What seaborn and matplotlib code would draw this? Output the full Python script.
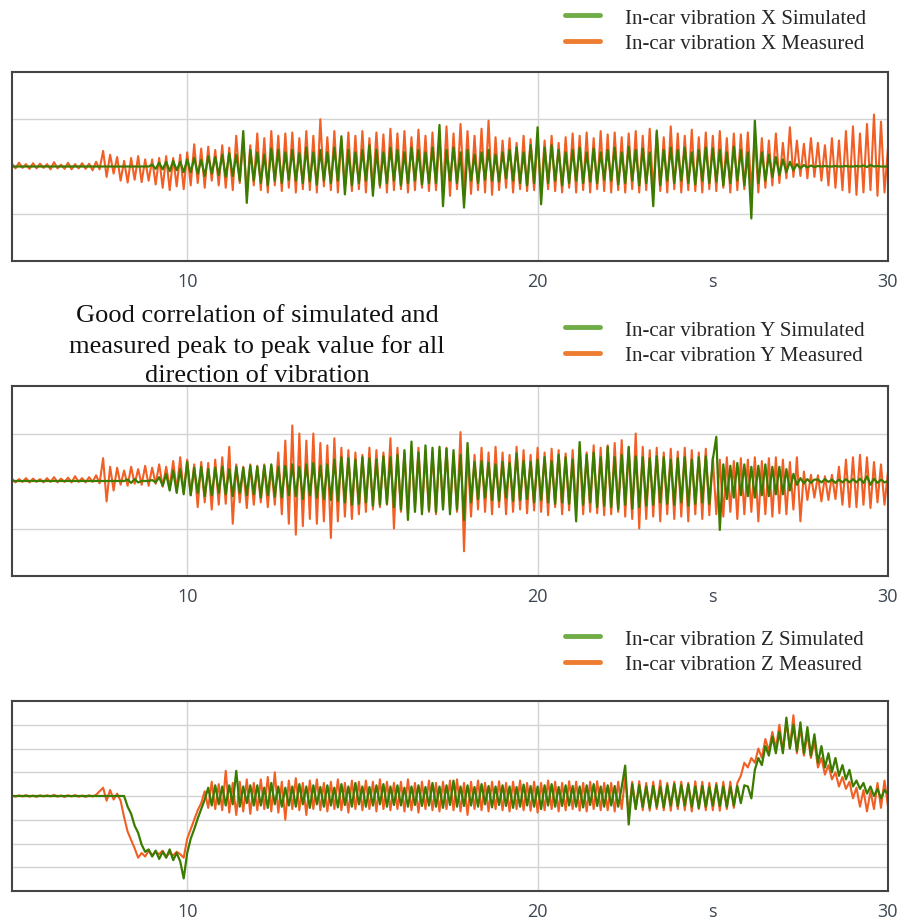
import numpy as np
import matplotlib
matplotlib.use("Agg")
import matplotlib.pyplot as plt
from matplotlib.lines import Line2D
import seaborn as sns

# ---------------------------------------------------------------
# Values, one row per second (0.1 s step)
# ---------------------------------------------------------------
TIME = np.round(np.linspace(5.0, 30.0, 251), 2)

x_measured = [
    0.06, -0.04, 0.08, -0.03, 0.05, -0.05, 0.07, -0.04, 0.06, -0.03,   # 5 s
    0.05, -0.06, 0.09, -0.04, 0.04, -0.05, 0.08, -0.06, 0.05, -0.04,   # 6 s
    0.07, -0.05, 0.06, -0.08, 0.10, -0.06, 0.33, -0.22, 0.25, -0.15,   # 7 s
    0.20, -0.30, 0.12, -0.34, 0.18, -0.28, 0.22, -0.33, 0.15, -0.30,   # 8 s
    0.15, -0.38, 0.18, -0.45, 0.22, -0.50, 0.18, -0.42, 0.25, -0.48,   # 9 s
    0.30, -0.40, 0.47, -0.35, 0.38, -0.45, 0.42, -0.30, 0.35, -0.40,   # 10 s
    0.45, -0.45, 0.40, -0.50, 0.65, -0.35, 0.55, -0.55, 0.45, -0.40,   # 11 s
    0.70, -0.50, 0.60, -0.55, 0.75, -0.40, 0.65, -0.52, 0.70, -0.45,   # 12 s
    0.72, -0.55, 0.60, -0.48, 0.75, -0.50, 0.65, -0.55, 1.00, -0.42,   # 13 s
    0.62, -0.50, 0.75, -0.55, 0.58, -0.45, 0.72, -0.52, 0.65, -0.48,   # 14 s
    0.75, -0.55, 0.60, -0.50, 0.72, -0.45, 0.68, -0.55, 0.80, -0.50,   # 15 s
    0.70, -0.48, 0.75, -0.55, 0.62, -0.50, 0.78, -0.45, 0.65, -0.52,   # 16 s
    0.72, -0.50, 0.60, -0.55, 0.85, -0.62, 0.70, -0.48, 0.90, -0.55,   # 17 s
    0.75, -0.58, 0.65, -0.50, 0.80, -0.55, 0.97, -0.60, 0.62, -0.50,   # 18 s
    0.55, -0.45, 0.60, -0.55, 0.50, -0.48, 0.65, -0.52, 0.58, -0.50,   # 19 s
    0.60, -0.55, 0.55, -0.48, 0.65, -0.52, 0.50, -0.55, 0.62, -0.45,   # 20 s
    0.70, -0.55, 0.65, -0.50, 0.72, -0.55, 0.60, -0.48, 0.75, -0.52,   # 21 s
    0.68, -0.55, 0.72, -0.50, 0.62, -0.55, 0.70, -0.48, 0.75, -0.55,   # 22 s
    0.65, -0.50, 0.80, -0.55, 0.70, -0.52, 0.62, -0.55, 0.85, -0.48,   # 23 s
    0.70, -0.55, 0.65, -0.50, 0.78, -0.52, 0.62, -0.55, 0.72, -0.48,   # 24 s
    0.65, -0.52, 0.75, -0.45, 0.60, -0.55, 0.70, -0.50, 0.68, -0.48,   # 25 s
    0.72, -0.50, 0.65, -0.55, 0.60, -0.45, 0.55, -0.40, 0.70, -0.35,   # 26 s
    0.50, -0.25, 0.83, -0.22, 0.55, -0.20, 0.48, -0.25, 0.60, -0.22,   # 27 s
    0.50, -0.30, 0.45, -0.40, 0.60, -0.45, 0.55, -0.50, 0.75, -0.55,   # 28 s
    0.85, -0.60, 0.70, -0.55, 0.90, -0.50, 1.10, -0.62, 0.95, -0.55,   # 29 s
    0.40,
]

x_simulated = [
    0.00, 0.00, 0.00, 0.00, 0.00, 0.00, 0.00, 0.00, 0.00, 0.00,
    0.00, 0.00, 0.00, 0.00, 0.00, 0.00, 0.00, 0.00, 0.00, 0.00,
    0.00, 0.00, 0.00, 0.00, 0.00, 0.00, 0.00, 0.00, 0.00, 0.00,
    0.00, 0.00, 0.00, 0.00, 0.00, 0.00, 0.00, 0.00, 0.00, 0.00,
    0.04, -0.05, 0.08, -0.06, 0.10, -0.10, 0.12, -0.08, 0.10, -0.12,
    0.15, -0.12, 0.18, -0.15, 0.14, -0.20, 0.22, -0.15, 0.20, -0.18,
    0.25, -0.22, 0.28, -0.20, 0.25, -0.30, 0.75, -0.77, 0.35, -0.30,
    0.30, -0.35, 0.25, -0.40, 0.38, -0.30, 0.35, -0.35, 0.30, -0.28,
    0.35, -0.30, 0.28, -0.35, 0.40, -0.32, 0.30, -0.38, 0.35, -0.30,
    0.30, -0.35, 0.40, -0.30, 0.64, -0.59, 0.35, -0.40, 0.30, -0.35,
    0.35, -0.30, 0.45, -0.62, 0.35, -0.40, 0.30, -0.35, 0.40, -0.30,
    0.35, -0.40, 0.30, -0.35, 0.40, -0.30, 0.35, -0.38, 0.30, -0.35,
    0.40, -0.35, 0.88, -0.84, 0.35, -0.30, 0.40, -0.35, 0.30, -0.87,
    0.35, -0.30, 0.25, -0.35, 0.30, -0.28, 0.35, -0.30, 0.25, -0.32,
    0.30, -0.25, 0.35, -0.30, 0.40, -0.35, 0.30, -0.40, 0.45, -0.35,
    0.83, -0.80, 0.40, -0.35, 0.45, -0.30, 0.35, -0.40, 0.30, -0.35,
    0.35, -0.30, 0.40, -0.35, 0.30, -0.32, 0.38, -0.35, 0.30, -0.28,
    0.35, -0.30, 0.40, -0.38, 0.30, -0.35, 0.42, -0.30, 0.35, -0.40,
    0.38, -0.35, 0.30, -0.84, 0.76, -0.40, 0.35, -0.30, 0.40, -0.35,
    0.35, -0.30, 0.40, -0.35, 0.30, -0.38, 0.35, -0.30, 0.40, -0.35,
    0.38, -0.32, 0.35, -0.40, 0.30, -0.35, 0.42, -0.30, 0.35, -0.40,
    0.30, -1.10, 0.97, -0.35, 0.30, -0.30, 0.25, -0.22, 0.20, -0.18,
    0.15, -0.12, 0.10, -0.08, 0.05, -0.04, 0.03, -0.02, 0.02, -0.01,
    0.01, 0.00, 0.01, 0.00, 0.00, 0.01, 0.00, 0.00, 0.01, 0.00,
    0.00, 0.01, 0.00, 0.02, -0.01, 0.03, 0.00, 0.01, 0.00, 0.00,
    0.00,
]

y_measured = [
    0.05, -0.03, 0.04, -0.02, 0.06, -0.03, 0.05, -0.02, 0.04, -0.03,
    0.06, -0.02, 0.08, -0.03, 0.05, -0.02, 0.07, -0.03, 0.10, -0.02,
    0.06, -0.03, 0.08, -0.02, 0.12, -0.05, 0.48, -0.43, 0.30, -0.20,
    0.28, -0.08, 0.22, -0.10, 0.30, -0.06, 0.25, -0.08, 0.32, -0.10,
    0.28, -0.06, 0.35, -0.12, 0.30, -0.15, 0.42, -0.20, 0.50, -0.25,
    0.45, -0.30, 0.35, -0.55, 0.40, -0.45, 0.38, -0.60, 0.45, -0.50,
    0.50, -0.48, 0.72, -0.90, 0.35, -0.45, 0.30, -0.57, 0.35, -0.50,
    0.32, -0.45, 0.35, -0.55, 0.30, -0.50, 0.60, -0.70, 0.85, -0.90,
    1.17, -1.13, 1.00, -0.95, 0.85, -0.80, 1.00, -0.90, 0.80, -0.85,
    0.75, -1.20, 0.90, -0.85, 0.70, -0.75, 0.65, -0.80, 0.60, -0.70,
    0.55, -0.65, 0.70, -0.60, 0.65, -0.55, 0.60, -0.50, 0.90, -1.00,
    0.70, -0.65, 0.60, -0.70, 0.65, -0.55, 0.70, -0.60, 0.55, -0.65,
    0.60, -0.70, 0.65, -0.55, 0.70, -0.60, 0.55, -0.65, 1.03, -1.48,
    0.65, -0.75, 0.55, -0.60, 0.70, -0.65, 0.60, -0.70, 0.72, -0.55,
    0.60, -0.70, 0.55, -0.65, 0.72, -0.60, 0.65, -0.68, 0.55, -0.62,
    0.70, -0.65, 0.60, -0.72, 0.68, -0.55, 0.65, -0.70, 0.58, -0.62,
    0.65, -0.60, 0.72, -0.70, 0.60, -0.65, 0.75, -0.68, 0.70, -0.72,
    0.75, -0.70, 0.80, -0.65, 0.86, -0.75, 0.70, -0.80, 1.00, -1.00,
    0.72, -0.80, 0.65, -0.75, 0.70, -0.85, 0.60, -0.70, 0.68, -0.80,
    0.62, -0.75, 0.70, -0.85, 0.65, -0.70, 0.60, -0.80, 0.68, -0.72,
    0.50, -0.70, 0.45, -0.75, 0.50, -0.65, 0.42, -0.80, 0.48, -0.70,
    0.45, -0.65, 0.50, -0.85, 0.42, -0.70, 0.48, -0.75, 0.50, -0.68,
    0.45, -0.70, 0.40, -0.60, 0.50, -0.85, 0.20, -0.40, 0.13, -0.35,
    0.12, -0.43, 0.10, -0.40, 0.13, -0.38, 0.30, -0.50, 0.45, -0.55,
    0.50, -0.55, 0.55, -0.50, 0.50, -0.57, 0.40, -0.45, 0.35, -0.50,
    0.20,
]

y_simulated = [
    0.00, 0.00, 0.00, 0.00, 0.00, 0.00, 0.00, 0.00, 0.00, 0.00,
    0.00, 0.00, 0.00, 0.00, 0.00, 0.00, 0.00, 0.00, 0.00, 0.00,
    0.00, 0.00, 0.00, 0.00, 0.00, 0.00, 0.00, 0.00, 0.00, 0.00,
    0.00, 0.00, 0.00, 0.03, -0.04, 0.04, -0.03, 0.00, 0.00, 0.00,
    0.02, -0.03, 0.08, -0.10, 0.15, -0.20, 0.22, -0.25, 0.25, -0.28,
    0.40, -0.30, 0.28, -0.25, 0.30, -0.32, 0.25, -0.30, 0.28, -0.25,
    0.30, -0.28, 0.25, -0.32, 0.30, -0.25, 0.28, -0.30, 0.32, -0.28,
    0.30, -0.35, 0.32, -0.30, 0.35, -0.33, 0.30, -0.35, 0.32, -0.30,
    0.35, -0.32, 0.30, -0.38, 0.35, -0.30, 0.38, -0.35, 0.32, -0.38,
    0.35, -0.40, 0.45, -0.42, 0.50, -0.45, 0.48, -0.50, 0.45, -0.48,
    0.50, -0.45, 0.48, -0.52, 0.45, -0.50, 0.52, -0.48, 0.50, -0.55,
    0.55, -0.60, 0.65, -0.82, 0.83, -0.65, 0.60, -0.70, 0.75, -0.62,
    0.70, -0.65, 0.72, -0.60, 0.68, -0.70, 0.65, -0.60, 0.55, -0.82,
    0.80, -0.45, 0.40, -0.38, 0.42, -0.35, 0.38, -0.40, 0.35, -0.42,
    0.40, -0.35, 0.38, -0.42, 0.58, -0.40, 0.42, -0.38, 0.40, -0.45,
    0.45, -0.40, 0.50, -0.45, 0.42, -0.48, 0.55, -0.45, 0.50, -0.48,
    0.45, -0.85, 0.82, -0.50, 0.55, -0.45, 0.60, -0.55, 0.50, -0.52,
    0.72, -0.55, 0.50, -0.60, 0.55, -0.50, 0.72, -0.58, 0.52, -0.55,
    0.50, -0.52, 0.48, -0.50, 0.52, -0.45, 0.50, -0.48, 0.45, -0.50,
    0.48, -0.45, 0.50, -0.52, 0.45, -0.48, 0.50, -0.45, 0.52, -0.48,
    0.45, 0.93, -1.03, 0.35, -0.38, 0.32, -0.35, 0.38, -0.30, 0.35,
    -0.32, 0.30, -0.35, 0.32, -0.30, 0.35, -0.32, 0.30, -0.28, 0.30,
    -0.28, 0.25, -0.20, 0.15, -0.08, 0.06, -0.05, 0.04, -0.04, 0.03,
    0.03, -0.03, 0.04, -0.02, 0.03, -0.04, 0.03, -0.03, 0.04, -0.03,
    0.04, -0.03, 0.05, -0.04, 0.10, -0.08, 0.05, -0.04, 0.03, -0.03,
    0.00,
]

z_measured = [
    0.02, -0.03, 0.03, -0.02, 0.04, -0.03, 0.02, -0.04, 0.03, -0.02,
    0.03, -0.02, 0.05, -0.03, 0.02, -0.04, 0.03, -0.02, 0.04, -0.03,
    0.02, -0.04, 0.03, -0.02, 0.05, 0.20, 0.35, -0.20, 0.25, -0.15,
    0.10, -0.20, -0.90, -1.50, -1.85, -2.20, -2.60, -2.40, -2.55, -2.30,
    -2.50, -2.35, -2.45, -2.30, -2.55, -2.40, -2.50, -2.35, -2.45, -2.60,
    -1.80, -1.40, -1.00, -0.60, -0.30, 0.20, -0.50, 0.60, -0.55, 0.50,
    -0.60, 1.06, -0.70, 0.55, -0.80, 0.60, -0.65, 0.70, -0.75, 0.55,
    -0.60, 0.70, -0.55, 0.80, -0.65, 1.00, -0.70, 0.60, -1.00, 0.65,
    -0.55, 0.75, -0.60, 0.55, -0.80, 0.65, -0.55, 0.70, -0.60, 0.55,
    -0.65, 0.60, -0.55, 0.70, -0.60, 0.55, -0.70, 0.65, -0.55, 0.60,
    -0.60, 0.65, -0.55, 0.60, -0.65, 0.70, -0.55, 0.60, -0.60, 0.55,
    -0.55, 0.60, -0.65, 0.70, -0.60, 0.55, -0.70, 0.60, -0.55, 0.65,
    -0.60, 0.55, -0.65, 0.60, -0.55, 0.65, -0.60, 0.70, -0.65, 0.55,
    -0.80, 0.60, -0.55, 0.65, -0.60, 0.55, -0.65, 0.60, -0.55, 0.62,
    -0.60, 0.55, -0.65, 0.60, -0.55, 0.65, -0.60, 0.55, -0.62, 0.60,
    -0.70, 0.55, -0.60, 0.65, -0.55, 0.60, -0.65, 0.55, -0.60, 0.62,
    -0.55, 0.60, -0.62, 0.55, -0.65, 0.60, -0.55, 0.62, -0.60, 0.55,
    -0.60, 0.55, -0.65, 0.60, -0.55, 0.80, -0.75, 0.60, -0.55, 0.62,
    -0.60, 0.55, -0.62, 0.60, -0.55, 0.65, -0.60, 0.55, -0.62, 0.60,
    -0.55, 0.60, -0.60, 0.55, -0.65, 0.62, -0.55, 0.60, -0.60, 0.55,
    -0.60, 0.55, -0.62, 0.60, -0.55, 0.60, -0.50, 0.55, 0.85, 1.40,
    1.20, 1.60, 1.40, 2.00, 1.60, 2.40, 1.90, 2.70, 2.00, 3.00,
    1.90, 3.10, 2.00, 3.40, 1.80, 2.90, 1.70, 2.60, 1.60, 2.30,
    1.20, 1.60, 0.90, 1.30, 0.70, 1.00, 0.40, 0.80, 0.30, 0.60,
    -0.10, 0.35, -0.45, 0.25, -0.65, 0.20, -0.55, 0.55, -0.50, 0.65,
    -0.45,
]

z_simulated = [
    0.00, 0.00, 0.00, 0.00, 0.00, 0.00, 0.00, 0.00, 0.00, 0.00,
    0.00, 0.00, 0.00, 0.00, 0.00, 0.00, 0.00, 0.00, 0.00, 0.00,
    0.00, 0.00, 0.00, 0.00, 0.00, 0.00, 0.00, 0.00, 0.00, 0.00,
    0.00, 0.00, 0.00, -0.45, -0.75, -1.25, -1.55, -2.05, -2.35, -2.25,
    -2.55, -2.30, -2.65, -2.35, -2.60, -2.25, -2.70, -2.40, -2.75, -3.47,
    -2.40, -1.80, -1.40, -0.95, -0.55, -0.15, 0.35, -0.40, 0.45, -0.35,
    0.40, -0.40, 0.45, -0.35, 1.06, -0.45, 0.40, -0.30, 0.45, -0.40,
    0.45, -0.40, 0.35, -0.50, 0.55, -0.35, 0.40, -0.45, 0.35, -0.40,
    0.40, -0.45, 0.50, -0.35, 0.40, -0.50, 0.45, -0.35, 0.38, -0.45,
    0.45, -0.40, 0.35, -0.48, 0.50, -0.38, 0.40, -0.45, 0.55, -0.35,
    0.40, -0.45, 0.38, -0.40, 0.45, -0.35, 0.50, -0.45, 0.40, -0.38,
    0.45, -0.40, 0.35, -0.45, 0.40, -0.38, 0.45, -0.42, 0.38, -0.40,
    0.55, -0.45, 0.40, -0.50, 0.45, -0.38, 0.65, -0.45, 0.40, -0.42,
    0.45, -0.40, 0.38, -0.45, 0.50, -0.35, 0.42, -0.48, 0.40, -0.38,
    0.45, -0.42, 0.40, -0.50, 0.38, -0.45, 0.48, -0.40, 0.42, -0.45,
    0.40, -0.55, 0.45, -0.40, 0.50, -0.45, 0.38, -0.42, 0.45, -0.40,
    0.42, -0.45, 0.40, -0.48, 0.45, -0.38, 0.50, -0.42, 0.40, -0.45,
    0.45, -0.40, 0.42, -0.45, 0.38, 1.28, -1.20, 0.50, -0.55, 0.45,
    -0.45, 0.40, -0.50, 0.42, -0.45, 0.38, -0.48, 0.45, -0.40, 0.50,
    -0.42, 0.45, -0.40, 0.48, -0.45, 0.40, -0.50, 0.42, -0.45, 0.38,
    -0.40, 0.45, -0.42, 0.40, -0.45, 0.38, -0.40, 0.42, -0.30, 0.45,
    0.40, -0.10, 1.10, 1.60, 1.30, 2.10, 1.70, 2.50, 1.80, 2.70,
    1.80, 3.30, 2.00, 3.00, 1.90, 3.10, 1.80, 2.90, 1.70, 2.60,
    1.40, 2.10, 1.20, 1.80, 1.00, 1.60, 0.85, 1.30, 0.70, 1.10,
    0.40, 0.65, 0.30, 0.55, 0.10, 0.40, 0.00, 0.30, -0.10, 0.25,
    0.10,
]

axis_letters = ["X", "Y", "Z"]
x_ticks = [10, 20, 30]
x_tick_labels = ["10", "20", "30"]
unit_tick = [25]
unit_label = ["s"]

# colours
MEAS_COLOR = "#f25f24"
SIM_COLOR = "#3b7b00"
LEG_SIM = "#70ad47"
LEG_MEAS = "#ed7d31"
TICK_COLOR = "#3c4650"

sns.set_theme(style="white")
plt.rcParams["font.family"] = ["Liberation Serif", "DejaVu Serif"]

W, H = 902, 920
fig = plt.figure(figsize=(W / 100, H / 100), dpi=100)

# (top, bottom) pixel boxes, y limits, y ticks, legend top
panels = [
    dict(top=73, bottom=262, ylim=(-2, 2), yticks=[-1, 1], sim=x_simulated,
         meas=x_measured, leg_top=9),
    dict(top=387, bottom=577, ylim=(-2, 2), yticks=[-1, 1], sim=y_simulated,
         meas=y_measured, leg_top=321),
    dict(top=702, bottom=892, ylim=(-4, 4), yticks=[-3, -2, -1, 0, 1, 2, 3],
         sim=z_simulated, meas=z_measured, leg_top=630),
]

for letter, p in zip(axis_letters, panels):
    ax = fig.add_axes([12 / W, 1 - p["bottom"] / H, 876 / W,
                       (p["bottom"] - p["top"]) / H])
    ax.set_axisbelow(True)

    # measured first, simulated drawn on top
    sns.lineplot(x=TIME, y=p["meas"], ax=ax, color=MEAS_COLOR, lw=1.5,
                 estimator=None, sort=False, legend=False)
    sns.lineplot(x=TIME, y=p["sim"], ax=ax, color=SIM_COLOR, lw=1.6,
                 estimator=None, sort=False, legend=False)

    ax.set_xlim(5, 30)
    ax.set_ylim(*p["ylim"])
    ax.set_xlabel("")
    ax.set_ylabel("")

    ax.set_xticks(x_ticks, labels=x_tick_labels, fontfamily="Open Sans",
                  fontsize=13, color=TICK_COLOR)
    ax.set_xticks(unit_tick, labels=unit_label, minor=True,
                  fontfamily="Open Sans", fontsize=13, color=TICK_COLOR)
    ax.set_yticks(p["yticks"], labels=[])
    ax.tick_params(axis="both", which="major", direction="in", length=9,
                   width=1.4, color="#333333")
    ax.tick_params(axis="x", which="both", pad=8)
    ax.tick_params(axis="x", which="minor", length=0)
    ax.grid(True, which="major", color="#d3d3d3", lw=1.0)

    for sp in ax.spines.values():
        sp.set_visible(True)
        sp.set_color("#444444")
        sp.set_linewidth(1.5)

    handles = [Line2D([], [], color=LEG_SIM, lw=3.5),
               Line2D([], [], color=LEG_MEAS, lw=3.5)]
    labels = [f"In-car vibration {letter} Simulated",
              f"In-car vibration {letter} Measured"]
    ax.legend(handles, labels, loc="upper left",
              bbox_to_anchor=(565 / W, 1 - p["leg_top"] / H),
              bbox_transform=fig.transFigure, frameon=False, fontsize=15,
              handlelength=1.7, handletextpad=1.2, labelspacing=0.28,
              borderpad=0, borderaxespad=0)

fig.text(257 / W, 1 - 346 / H,
         "Good correlation of simulated and\n"
         "measured peak to peak value for all\n"
         "direction of vibration",
         ha="center", va="center", fontsize=19, linespacing=1.45,
         color="#111111")

fig.savefig("out.png", dpi=100)
